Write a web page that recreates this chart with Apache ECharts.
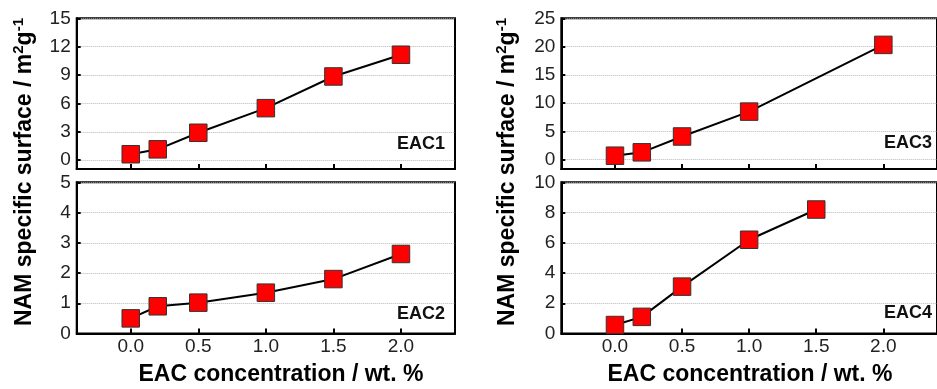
<!DOCTYPE html>
<html>
<head>
<meta charset="utf-8">
<script src="https://cdn.jsdelivr.net/npm/echarts@6/dist/echarts.min.js"></script>
<style>
html,body{margin:0;padding:0;background:#fff;}
#c{width:937px;height:389px;}
</style>
</head>
<body>
<div id="c"></div>
<script>
// ---- data ----
const xEAC1 = [0, 0.2, 0.5, 1.0, 1.5, 2.0];
const yEAC1 = [0.63, 1.15, 2.9, 5.5, 8.85, 11.15];
const xEAC2 = [0, 0.2, 0.5, 1.0, 1.5, 2.0];
const yEAC2 = [0.5, 0.9, 1.02, 1.35, 1.8, 2.63];
const xEAC3 = [0, 0.2, 0.5, 1.0, 2.0];
const yEAC3 = [0.7, 1.3, 4.1, 8.5, 20.3];
const xEAC4 = [0, 0.2, 0.5, 1.0, 1.5];
const yEAC4 = [0.56, 1.1, 3.1, 6.2, 8.2];
const xTicks = [0, 0.5, 1.0, 1.5, 2.0];
const yTicksEAC1 = [0, 3, 6, 9, 12, 15];
const yTicksEAC2 = [0, 1, 2, 3, 4, 5];
const yTicksEAC3 = [0, 5, 10, 15, 20, 25];
const yTicksEAC4 = [0, 2, 4, 6, 8, 10];
const panelLabels = ['EAC1', 'EAC2', 'EAC3', 'EAC4'];
const yTitle = 'NAM specific surface / m';
const xTitle = 'EAC concentration / wt. %';

const FONT = '"Liberation Sans", Arial, sans-serif';
const chart = echarts.init(document.getElementById('c'), null, {renderer: 'canvas'});

const grids = [
  {left: 76.7, top: 18.3, width: 378.3, height: 150.7},
  {left: 76.7, top: 182.3, width: 378.3, height: 151.2},
  {left: 561.3, top: 18.3, width: 378.3, height: 150.7},
  {left: 561.3, top: 182.3, width: 378.3, height: 151.2}
].map(g => Object.assign({show: true, borderColor: '#000', borderWidth: 2, backgroundColor: 'transparent', containLabel: false}, g));

function xAxis(i, showLabels) {
  return {
    type: 'value', gridIndex: i, min: -0.4, max: 2.4,
    axisLine: {show: true, onZero: false, lineStyle: {color: '#000', width: 2}},
    axisTick: {show: true, inside: true, length: 5, lineStyle: {color: '#000', width: 2}, customValues: xTicks},
    axisLabel: {show: showLabels, customValues: xTicks, margin: 4, fontSize: 19, color: '#222', fontFamily: FONT,
      formatter: v => v.toFixed(1)},
    splitLine: {show: false}
  };
}
function yAxis(i, min, max, ticks) {
  return {
    type: 'value', gridIndex: i, min: min, max: max,
    axisLine: {show: true, onZero: false, lineStyle: {color: '#000', width: 2}},
    axisTick: {show: true, inside: true, length: 4, lineStyle: {color: '#000', width: 2}, customValues: ticks},
    axisLabel: {show: true, customValues: ticks, margin: 6, fontSize: 19, color: '#222', fontFamily: FONT},
    splitLine: {show: true, lineStyle: {color: '#b8b8b8', width: 1, type: [1, 1]}}
  };
}
function pairs(xs, ys) { return xs.map((x, k) => [x, ys[k]]); }
function series(i, xs, ys) {
  return {
    type: 'line', xAxisIndex: i, yAxisIndex: i, data: pairs(xs, ys),
    symbol: 'rect', symbolSize: 17.5, showAllSymbol: true,
    lineStyle: {color: '#000', width: 2},
    itemStyle: {color: '#ff0000', borderColor: '#333', borderWidth: 1},
    clip: false, animation: false, z: 3
  };
}

const rich = {
  b: {fontSize: 23, fontWeight: 'bold', fontFamily: FONT, color: '#000', lineHeight: 28},
  s: {fontSize: 15, fontWeight: 'bold', fontFamily: FONT, color: '#000', verticalAlign: 'top', lineHeight: 28, padding: [0, 0, 10, 0]}
};
function yTitleText(x) {
  return {type: 'text', x: x, y: 172, rotation: Math.PI / 2,
    style: {text: '{b|' + yTitle + '}{s|2}{b|g}{s|-1}', rich: rich, align: 'center', verticalAlign: 'middle'}};
}
function xTitleText(x) {
  return {type: 'text', x: x, y: 375,
    style: {text: xTitle, font: 'bold 23px ' + FONT, fill: '#000', align: 'center', verticalAlign: 'middle'}};
}
function panelText(t, x, y) {
  return {type: 'text', x: x, y: y, z: 10,
    style: {text: t, font: 'bold 18px ' + FONT, fill: '#111', align: 'right', verticalAlign: 'middle'}};
}

chart.setOption({
  animation: false,
  grid: grids,
  xAxis: [xAxis(0, false), xAxis(1, true), xAxis(2, false), xAxis(3, true)],
  yAxis: [
    yAxis(0, -0.93, 15, yTicksEAC1),
    yAxis(1, 0, 5, yTicksEAC2),
    yAxis(2, -1.65, 25, yTicksEAC3),
    yAxis(3, 0, 10, yTicksEAC4)
  ],
  series: [
    series(0, xEAC1, yEAC1),
    series(1, xEAC2, yEAC2),
    series(2, xEAC3, yEAC3),
    series(3, xEAC4, yEAC4)
  ],
  graphic: [
    yTitleText(25), yTitleText(508),
    xTitleText(281), xTitleText(750),
    panelText(panelLabels[0], 445, 144),
    panelText(panelLabels[1], 445, 314),
    panelText(panelLabels[2], 932, 143),
    panelText(panelLabels[3], 932, 313)
  ]
});
</script>
</body>
</html>
